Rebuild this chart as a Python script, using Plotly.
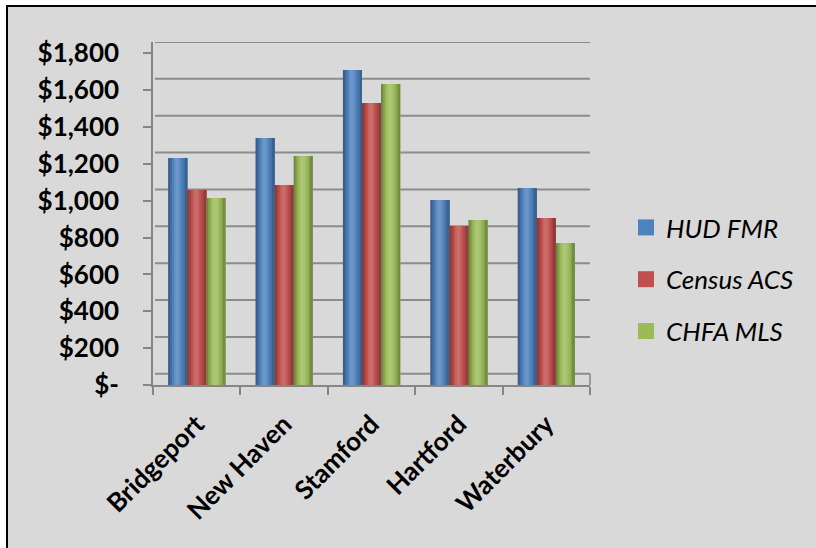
import plotly.graph_objects as go

# ---------------- data ----------------
categories = ["Bridgeport", "New Haven", "Stamford", "Hartford", "Waterbury"]
hud_fmr = [1232, 1340, 1709, 1004, 1069]
census_acs = [1058, 1085, 1530, 863, 906]
chfa_mls = [1015, 1243, 1633, 895, 770]
series_names = ["HUD FMR", "Census ACS", "CHFA MLS"]
tick_values = [0, 200, 400, 600, 800, 1000, 1200, 1400, 1600, 1800]
tick_labels = ["$-", "$200", "$400", "$600", "$800", "$1,000",
               "$1,200", "$1,400", "$1,600", "$1,800"]

# ---------------- style ----------------
W, H = 816, 548
PL, PR, PT, PB = 153, 590, 42, 385          # plot area in px
Y_MAX = 1861                                 # value at top of plot area
BACK_OFFSET = 61                             # back-wall depth shift (value units)
BG = "#d9d9d9"
AXIS = "#868686"
GRID = "#8c8c8c"
colors = ["#4f81bd", "#c0504d", "#9bbb59"]
FONT = "Lato"
FS = 26

def px_x(px):
    return (px - PL) / (PR - PL)

def px_y(py):
    return (PB - py) / (PB - PT)

def shade(hexc, f):
    r, g, b = int(hexc[1:3], 16), int(hexc[3:5], 16), int(hexc[5:7], 16)
    out = []
    for c in (r, g, b):
        if f >= 1:
            v = c + (255 - c) * (f - 1) * 1.6
        else:
            v = c * f
        out.append(max(0, min(255, int(round(v)))))
    return "#%02x%02x%02x" % tuple(out)

profile = [0.72, 0.86, 0.98, 1.07, 1.11, 1.09, 1.03, 0.95, 0.86, 0.75]

fig = go.Figure()
values = [hud_fmr, census_acs, chfa_mls]
bw = 0.218
n = len(profile)
for i, (name, vals, col) in enumerate(zip(series_names, values, colors)):
    start = -1.5 * bw + i * bw
    for j, f in enumerate(profile):
        off = start + j * bw / n
        wid = bw - j * bw / n
        fig.add_trace(go.Bar(
            x=categories, y=vals, name=name,
            offset=off, width=wid,
            marker=dict(color=shade(col, f), line=dict(width=0)),
            showlegend=False, hoverinfo="skip" if j else None,
        ))
    # legend proxy
    fig.add_trace(go.Scatter(
        x=[None], y=[None], mode="markers", name=name, legendgroup=name,
        marker=dict(symbol="square", size=16, color=col),
    ))

shapes = []
# back-wall gridlines
for v in tick_values:
    shapes.append(dict(type="line", xref="paper", yref="y",
                       x0=px_x(155), x1=1, y0=v + BACK_OFFSET, y1=v + BACK_OFFSET,
                       line=dict(color=GRID, width=2), layer="below"))
# floor right edge
shapes.append(dict(type="line", xref="paper", yref="y", x0=1, x1=1,
                   y0=0, y1=BACK_OFFSET, line=dict(color=AXIS, width=1.5),
                   layer="below"))
# outer white strips and black frame
shapes.append(dict(type="rect", xref="paper", yref="paper",
                   x0=px_x(-10), x1=px_x(6), y0=px_y(560), y1=px_y(-10),
                   fillcolor="white", line=dict(width=0), layer="below"))
shapes.append(dict(type="rect", xref="paper", yref="paper",
                   x0=px_x(-10), x1=px_x(830), y0=px_y(5), y1=px_y(-10),
                   fillcolor="white", line=dict(width=0), layer="below"))
shapes.append(dict(type="line", xref="paper", yref="paper",
                   x0=px_x(7), x1=px_x(7), y0=px_y(560), y1=px_y(5),
                   line=dict(color="black", width=2)))
shapes.append(dict(type="line", xref="paper", yref="paper",
                   x0=px_x(6), x1=px_x(830), y0=px_y(6), y1=px_y(6),
                   line=dict(color="black", width=2)))

fig.update_layout(
    width=W, height=H,
    margin=dict(l=PL, r=W - PR, t=PT, b=H - PB, pad=0),
    paper_bgcolor=BG, plot_bgcolor=BG,
    barmode="overlay",
    shapes=shapes,
    font=dict(family=FONT, color="black"),
    legend=dict(
        xref="container", yref="container",
        x=626 / W, y=1 - 204 / H, xanchor="left", yanchor="top",
        font=dict(family=FONT, size=FS, style="italic", color="black"),
        bgcolor="rgba(0,0,0,0)", tracegroupgap=15, traceorder="grouped",
        itemsizing="trace",
    ),
    xaxis=dict(
        type="category", range=[-0.5, 4.5],
        tickson="boundaries", ticks="outside", ticklen=8, tickwidth=1.5,
        tickcolor=AXIS, showline=True, linecolor=AXIS, linewidth=1.5,
        showgrid=False, tickangle=-45, ticklabelstandoff=12,
        tickfont=dict(family=FONT, size=FS, weight="bold", color="black"),
    ),
    yaxis=dict(
        range=[0, Y_MAX], tickvals=tick_values, ticktext=tick_labels,
        ticks="outside", ticklen=8, tickwidth=1.5, tickcolor=AXIS,
        showline=True, linecolor=AXIS, linewidth=1.5,
        showgrid=False, zeroline=False, ticklabelstandoff=19,
        tickfont=dict(family=FONT, size=FS, weight="bold", color="black"),
    ),
)

fig.write_html("out.html")
